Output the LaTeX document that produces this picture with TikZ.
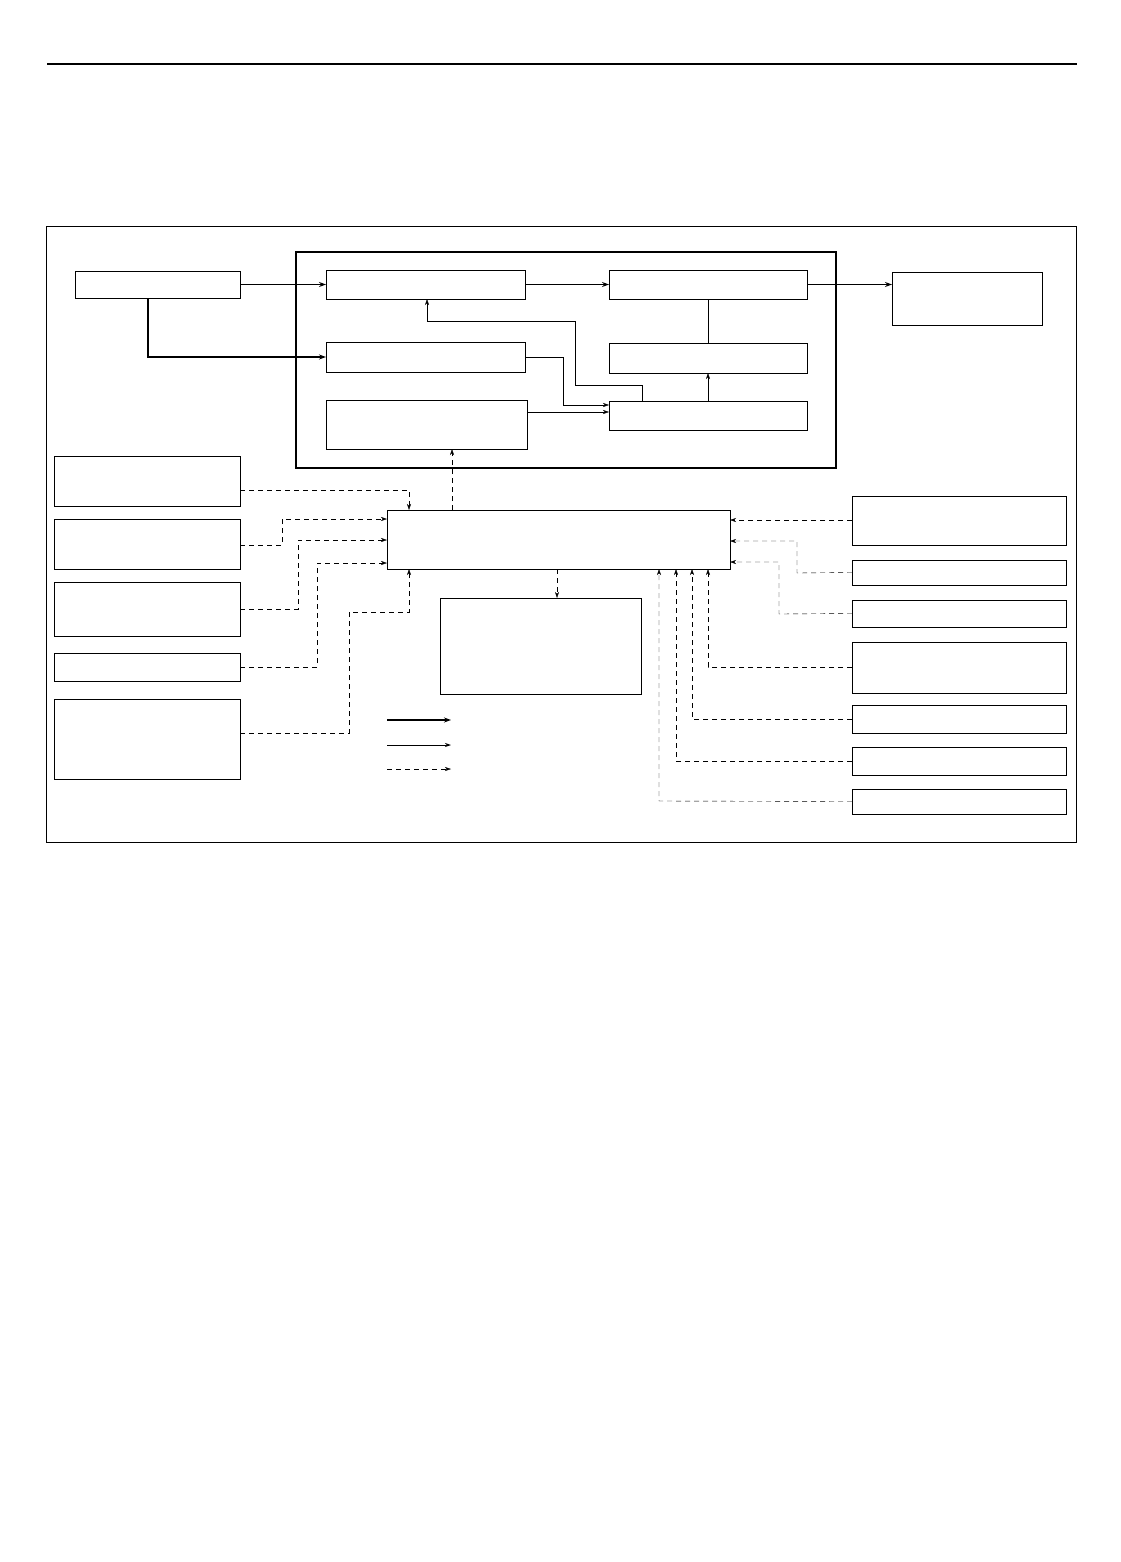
\documentclass[tikz,border=0pt]{standalone}
\usetikzlibrary{arrows.meta}

\begin{document}
\begin{tikzpicture}[x=1pt,y=-1pt,
  box/.style={draw, thin, anchor=north west, inner sep=0pt, outer sep=0pt},
  power/.style={line width=1.6pt, -{Stealth[length=7pt,width=5pt]}},
  signal/.style={thin, -{Stealth[length=6pt,width=4pt]}},
  ctrl/.style={thin, dash pattern=on 5pt off 4pt, -{Stealth[length=6pt,width=4pt]}}]
\useasboundingbox (0,0) rectangle (1120,1562);

% frames
\draw[line width=1.5pt] (47,64) -- (1077,64);
\draw[thin] (46,226) rectangle (1076,842);
\draw[line width=1.6pt] (296,252) rectangle (836,468);

% drive train
\node[box, minimum width=165pt, minimum height=27pt] (src) at (75,271) {};
\node[box, minimum width=199pt, minimum height=29pt] (gen) at (326,270) {};
\node[box, minimum width=199pt, minimum height=30pt] (aux) at (326,342) {};
\node[box, minimum width=201pt, minimum height=49pt] (reg) at (326,400) {};
\node[box, minimum width=198pt, minimum height=29pt] (conv) at (609,270) {};
\node[box, minimum width=198pt, minimum height=30pt] (sens) at (609,343) {};
\node[box, minimum width=198pt, minimum height=29pt] (logic) at (609,401) {};
\node[box, minimum width=150pt, minimum height=53pt] (load) at (892,272) {};

% controller
\node[box, minimum width=343pt, minimum height=59pt] (ecu) at (387,510) {};
\node[box, minimum width=201pt, minimum height=96pt] (disp) at (440,598) {};

% inputs, left
\node[box, minimum width=186pt, minimum height=50pt] (inA) at (54,456) {};
\node[box, minimum width=186pt, minimum height=50pt] (inB) at (54,519) {};
\node[box, minimum width=186pt, minimum height=54pt] (inC) at (54,582) {};
\node[box, minimum width=186pt, minimum height=28pt] (inD) at (54,653) {};
\node[box, minimum width=186pt, minimum height=80pt] (inE) at (54,699) {};

% inputs, right
\node[box, minimum width=214pt, minimum height=49pt] (inF) at (852,496) {};
\node[box, minimum width=214pt, minimum height=25pt] (inG) at (852,560) {};
\node[box, minimum width=214pt, minimum height=27pt] (inH) at (852,600) {};
\node[box, minimum width=214pt, minimum height=51pt] (inI) at (852,642) {};
\node[box, minimum width=214pt, minimum height=28pt] (inJ) at (852,705) {};
\node[box, minimum width=214pt, minimum height=28pt] (inK) at (852,747) {};
\node[box, minimum width=214pt, minimum height=25pt] (inL) at (852,789) {};

% power flow
\draw[power] (src.east) -- (gen.west);
\draw[power] (src.south -| 148,0) -- (148,357) -- (aux.west);
\draw[power] (gen.east) -- (conv.west);
\draw[power] (conv.east) -- (conv.east -| load.west);

% signals
\draw[thin] (conv.south) -- (sens.north);
\draw[signal] (logic.north) -- (sens.south);
\draw[signal] (aux.east) -- (563,357) -- (563,405) -- (logic.west |- 0,405);
\draw[signal] (reg.east |- 0,412) -- (logic.west |- 0,412);
\draw[signal] (logic.north -| 642,0) -- (642,385) -- (575,385) -- (575,321) -- (427,321) -- (gen.south -| 427,0);

% control
\draw[ctrl] (ecu.north -| 452,0) -- (reg.south -| 452,0);
\draw[ctrl] (ecu.south -| 557,0) -- (disp.north -| 557,0);
\draw[ctrl] (inA.east |- 0,490) -- (409,490) -- (ecu.north -| 409,0);
\draw[ctrl] (inB.east |- 0,545) -- (282,545) -- (282,519) -- (ecu.west |- 0,519);
\draw[ctrl] (inC.east |- 0,609) -- (298,609) -- (298,540) -- (ecu.west |- 0,540);
\draw[ctrl] (inD.east) -- (317,667) -- (317,563) -- (ecu.west |- 0,563);
\draw[ctrl] (inE.east |- 0,733) -- (349,733) -- (349,612) -- (409,612) -- (ecu.south -| 409,0);
\draw[ctrl] (inF.west |- 0,520) -- (ecu.east |- 0,520);
\draw[ctrl] (inG.west) -- (797,573) -- (797,541) -- (ecu.east |- 0,541);
\draw[ctrl] (inH.west) -- (779,614) -- (779,562) -- (ecu.east |- 0,562);
\draw[ctrl] (inI.west |- 0,667) -- (708,667) -- (ecu.south -| 708,0);
\draw[ctrl] (inJ.west) -- (692,719) -- (ecu.south -| 692,0);
\draw[ctrl] (inK.west) -- (676,761) -- (ecu.south -| 676,0);
\draw[ctrl] (inL.west) -- (659,801) -- (ecu.south -| 659,0);

% legend
\coordinate (l1) at (387,720); \coordinate (r1) at (451,720);
\coordinate (l2) at (387,745); \coordinate (r2) at (451,745);
\coordinate (l3) at (387,769); \coordinate (r3) at (451,769);
\draw[power, line width=1.3pt] (l1) -- (r1);
\draw[signal, line width=0.8pt] (l2) -- (r2);
\draw[ctrl] (l3) -- (r3);
\end{tikzpicture}
\end{document}
